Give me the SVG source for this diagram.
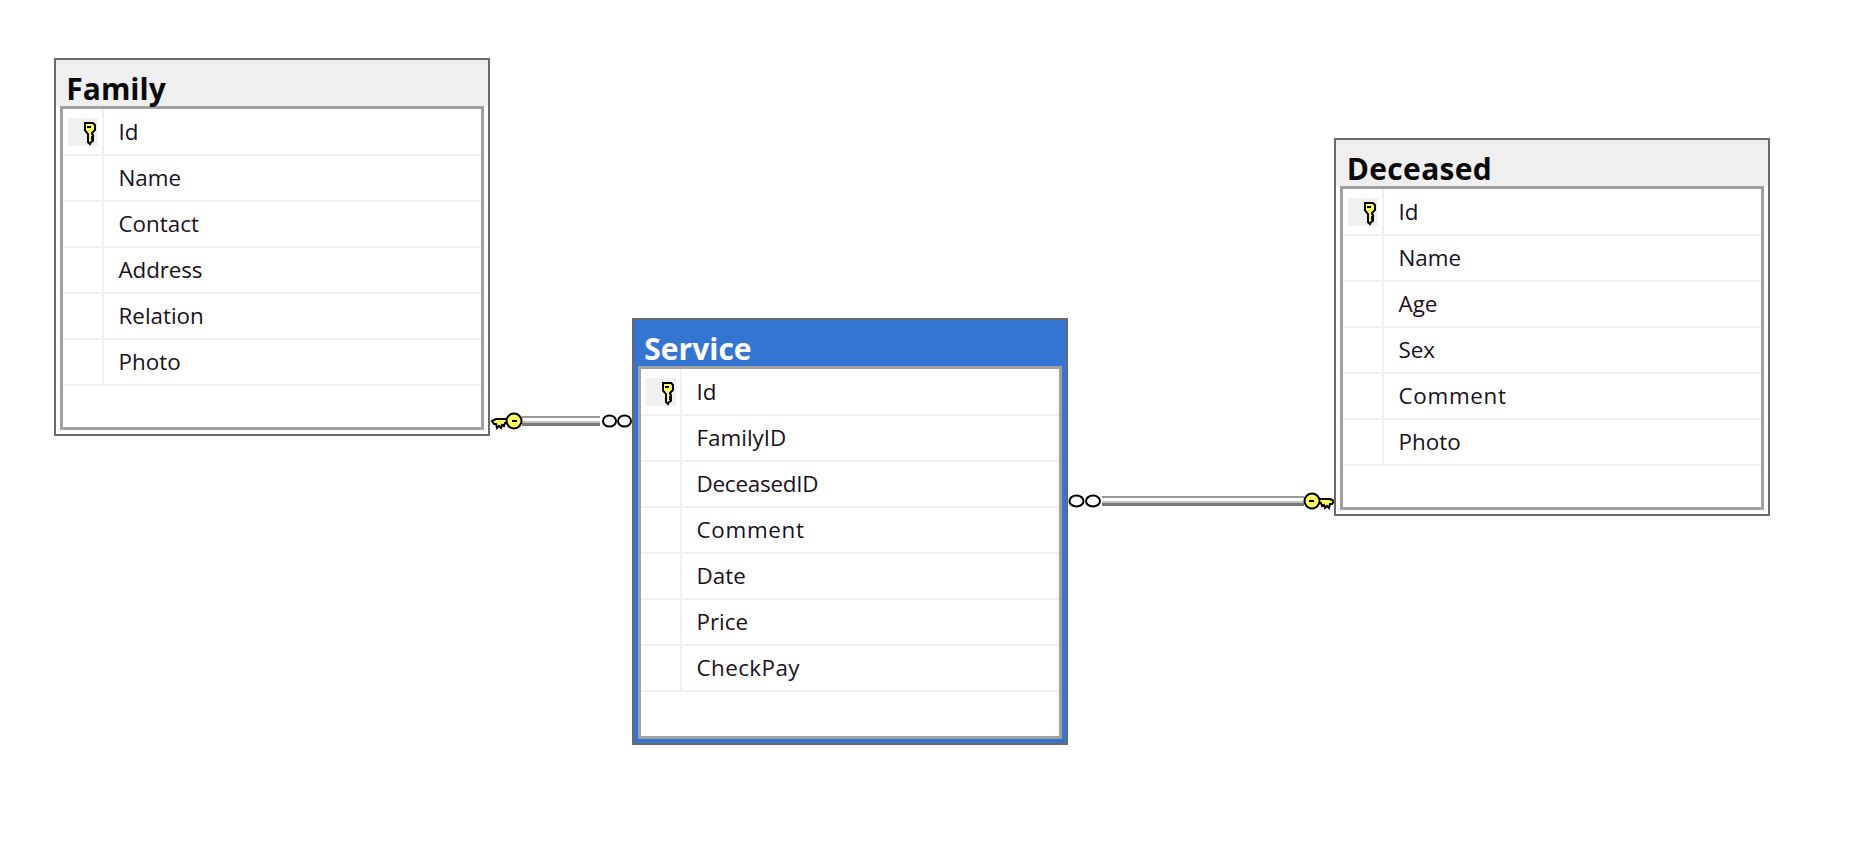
<svg xmlns="http://www.w3.org/2000/svg" xmlns:xlink="http://www.w3.org/1999/xlink" width="1858" height="864" viewBox="0 0 1858 864">
<style>
text{font-family:"Open Sans","Noto Sans","Liberation Sans",sans-serif}
.t{font-size:30px;font-weight:700;fill:#0a0a0a}
.w{fill:#fff}
.f{font-size:22.4px;fill:#1a1020}
.o{fill:#fff;stroke:#696969;stroke-width:2}
.h{fill:#efefef}
.hb{fill:#3375d0}
.i{fill:#fff;stroke:#a0a0a0;stroke-width:3}
.s{fill:#f0f0f0}
.k{fill:#ffff66;stroke:#000;stroke-width:2}
.c{fill:#fff;stroke:#000;stroke-width:2}
</style>
<defs>
<g id="rows">
<rect class="s" x="9" y="96" width="418" height="2"/><rect class="s" x="9" y="142" width="418" height="2"/><rect class="s" x="9" y="188" width="418" height="2"/><rect class="s" x="9" y="234" width="418" height="2"/><rect class="s" x="9" y="280" width="418" height="2"/><rect class="s" x="9" y="326" width="418" height="2"/>
<rect class="s" x="48" y="51" width="2" height="275"/>
</g>
<g id="pk">
<rect class="s" x="14" y="60" width="30" height="28"/>
<path class="k" d="M31 65h8l2 2v5l-3 3v1l1 1v2h-1v2h1v2l-2 1-1 2-2-2v-8l-3-3.500v-5z"/>
<path d="M33 68h4v2h-4z" fill="#000"/>
</g>
<g id="keyL">
<path class="k" d="M492 421l4-2h11v4h-2l-1 3-2-1-1 3-2-2-2 2-1-4h-2z"/>
<ellipse class="k" cx="514" cy="421" rx="7.500" ry="7.500"/>
<rect x="512" y="420" width="5" height="2" fill="#000"/>
</g>
<g id="wire">
<rect x="0" y="0" width="10" height="10" fill="#e8e8e8"/>
<rect x="0" y="0" width="10" height="2" fill="#999"/>
<rect x="0" y="2" width="10" height="3" fill="#fff"/>
<rect x="0" y="5" width="10" height="2" fill="#c4c4c4"/>
<rect x="0" y="7" width="10" height="3" fill="#777"/>
</g>
</defs>
<rect width="1858" height="864" fill="#fff"/>

<g id="connectors">
<g id="rel-family-service">
<use xlink:href="#wire" href="#wire" transform="translate(522 416) scale(7.8 1)"/>
<use xlink:href="#keyL" href="#keyL"/>
<ellipse class="c" cx="609.500" cy="421" rx="6.500" ry="5.500"/>
<ellipse class="c" cx="624.500" cy="421" rx="6.500" ry="5.500"/>
</g>
<g id="rel-service-deceased">
<use xlink:href="#wire" href="#wire" transform="translate(1102 496) scale(20.2 1)"/>
<g transform="translate(1826 80) scale(-1 1)"><use xlink:href="#keyL" href="#keyL"/></g>
<ellipse class="c" cx="1076.500" cy="501" rx="7" ry="5.500"/>
<ellipse class="c" cx="1093" cy="501" rx="7" ry="5.500"/>
</g>
</g>

<g id="family" transform="translate(54 58)">
<rect class="o" x="1" y="1" width="434" height="376"/>
<rect class="h" x="2" y="2" width="432" height="46"/>
<rect class="i" x="7.500" y="49.500" width="421" height="321"/>
<use xlink:href="#rows" href="#rows"/><use xlink:href="#pk" href="#pk"/>
<text class="t" x="12.300" y="42">Family</text>
<text class="f" x="64.500" y="81.500">Id</text><text class="f" x="64.500" y="127.500">Name</text><text class="f" x="64.500" y="173.500">Contact</text><text class="f" x="64.500" y="219.500" textLength="84">Address</text><text class="f" x="64.500" y="265.500">Relation</text><text class="f" x="64.500" y="311.500">Photo</text>
</g>

<g id="service" transform="translate(632 318)">
<rect class="o hb" x="1" y="1" width="434" height="425"/>
<rect class="i" x="7.500" y="49.500" width="421" height="370"/>
<use xlink:href="#rows" href="#rows"/>
<rect class="s" x="9" y="372" width="418" height="2"/><rect class="s" x="48" y="326" width="2" height="46"/>
<use xlink:href="#pk" href="#pk"/>
<text class="t w" x="12.300" y="42">Service</text>
<text class="f" x="64.500" y="81.500">Id</text><text class="f" x="64.500" y="127.500">FamilyID</text><text class="f" x="64.500" y="173.500" textLength="122">DeceasedID</text><text class="f" x="64.500" y="219.500" textLength="107.500">Comment</text><text class="f" x="64.500" y="265.500">Date</text><text class="f" x="64.500" y="311.500">Price</text><text class="f" x="64.500" y="357.500" textLength="103">CheckPay</text>
</g>

<g id="deceased" transform="translate(1334 138)">
<rect class="o" x="1" y="1" width="434" height="376"/>
<rect class="h" x="2" y="2" width="432" height="46"/>
<rect class="i" x="7.500" y="49.500" width="421" height="321"/>
<use xlink:href="#rows" href="#rows"/><use xlink:href="#pk" href="#pk"/>
<text class="t" x="12.800" y="42" textLength="145">Deceased</text>
<text class="f" x="64.500" y="81.500">Id</text><text class="f" x="64.500" y="127.500">Name</text><text class="f" x="64.500" y="173.500">Age</text><text class="f" x="64.500" y="219.500">Sex</text><text class="f" x="64.500" y="265.500" textLength="107.500">Comment</text><text class="f" x="64.500" y="311.500">Photo</text>
</g>
</svg>
